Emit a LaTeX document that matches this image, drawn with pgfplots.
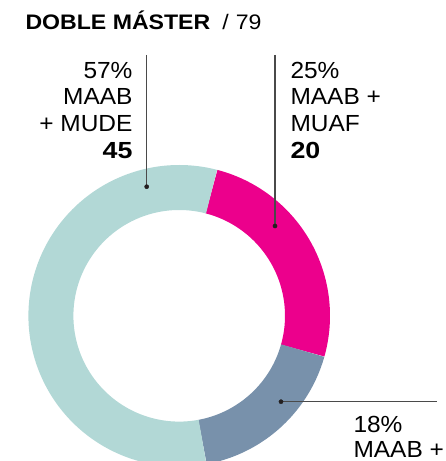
\documentclass[border=0pt]{standalone}
\usepackage{fontspec}
\setmainfont{Liberation Sans}
\newfontfamily\titlefont[FakeStretch=1.1]{Liberation Sans}
\newfontfamily\labfont[FakeStretch=1.05]{Liberation Sans}
\newfontfamily\numfont[FakeStretch=1.15]{Liberation Sans}
\usepackage{pgfplots}
\pgfplotsset{compat=1.18}
\definecolor{cteal}{HTML}{B2D8D6}
\definecolor{cpink}{HTML}{EC008C}
\definecolor{cslate}{HTML}{7891AB}
\definecolor{ctext}{HTML}{231F20}
\definecolor{cline}{HTML}{4A4A4A}
\begin{document}
\begin{tikzpicture}
\useasboundingbox (0,0) rectangle (446bp,461bp);
\clip (0,0) rectangle (446bp,461bp);
% data: MAAB+MUDE 45, MAAB+MUAF 20, MAAB+? 14 ; total 79
\def\vMUDE{45}\def\vMUAF{20}\def\vOTHER{14}
\pgfmathsetmacro{\tot}{\vMUDE+\vMUAF+\vOTHER}
\pgfmathsetmacro{\aS}{75.4}
\pgfmathsetmacro{\aP}{\aS-\vMUAF/\tot*360}
\pgfmathsetmacro{\aO}{\aP-\vOTHER/\tot*360}
\pgfmathsetmacro{\aM}{\aO-\vMUDE/\tot*360}
\begin{axis}[width=446bp,height=461bp,scale only axis,hide axis,
  xmin=0,xmax=446,ymin=0,ymax=461,clip=false,
  every node/.style={inner sep=0pt,text=ctext}]
\addplot[draw=cpink,line width=45bp,line join=round,mark=none,domain=\aP:\aS,samples=90]
  ({179.2+128.3*cos(x)},{145.2+128.3*sin(x)});
\addplot[draw=cslate,line width=45bp,line join=round,mark=none,domain=\aO:\aP,samples=90]
  ({179.2+128.3*cos(x)},{145.2+128.3*sin(x)});
\addplot[draw=cteal,line width=45bp,line join=round,mark=none,domain=\aM:\aO,samples=200]
  ({179.2+128.3*cos(x)},{145.2+128.3*sin(x)});
% leader lines
\addplot[cline,line width=1.3bp,mark=none] coordinates {(146.7,406) (146.7,274.3)};
\addplot[cline,line width=1.3bp,mark=none] coordinates {(275,406) (275,235)};
\addplot[cline,line width=1.3bp,mark=none] coordinates {(281,59.3) (437,59.3)};
\addplot[only marks,mark=*,mark size=2.1bp,color=ctext] coordinates {(146.7,274.3) (275,235) (281,59.3)};
% title
\node[anchor=base west] at (axis cs:22,431) {\titlefont\fontsize{21bp}{23bp}\selectfont\bfseries DOBLE MÁSTER};
\node[anchor=base east] at (axis cs:265,431) {\titlefont\fontsize{21bp}{23bp}\selectfont /\,\,79};
% left label
\node[anchor=base east] at (axis cs:136,382.7) {\labfont\fontsize{23.3bp}{27bp}\selectfont 57\%};
\node[anchor=base east] at (axis cs:136,356) {\labfont\fontsize{23.3bp}{27bp}\selectfont MAAB};
\node[anchor=base east] at (axis cs:136,329.3) {\labfont\fontsize{23.3bp}{27bp}\selectfont + MUDE};
\node[anchor=base east] at (axis cs:136,302.7) {\numfont\fontsize{23.3bp}{27bp}\selectfont\bfseries 45};
% right label
\node[anchor=base west] at (axis cs:287,382.7) {\labfont\fontsize{23.3bp}{27bp}\selectfont 25\%};
\node[anchor=base west] at (axis cs:287,356) {\labfont\fontsize{23.3bp}{27bp}\selectfont MAAB +};
\node[anchor=base west] at (axis cs:287,329.3) {\labfont\fontsize{23.3bp}{27bp}\selectfont MUAF};
\node[anchor=base west] at (axis cs:287,302.7) {\numfont\fontsize{23.3bp}{27bp}\selectfont\bfseries 20};
% bottom right label
\node[anchor=base west] at (axis cs:350,28.5) {\labfont\fontsize{23.3bp}{27bp}\selectfont 18\%};
\node[anchor=base west] at (axis cs:350,4) {\labfont\fontsize{23.3bp}{27bp}\selectfont MAAB +};
\end{axis}
\end{tikzpicture}
\end{document}
